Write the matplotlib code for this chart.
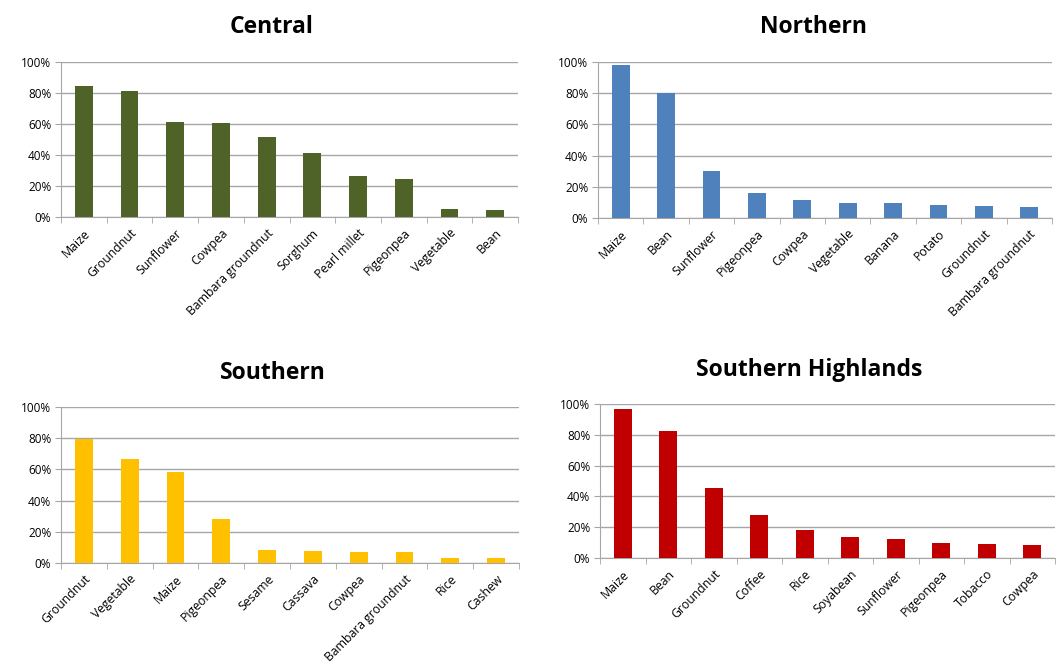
import matplotlib
matplotlib.use("Agg")
import matplotlib.pyplot as plt
from matplotlib.ticker import PercentFormatter, FixedLocator

plt.rcParams['font.family'] = ['Open Sans', 'DejaVu Sans']

central_crops = ["Maize", "Groundnut", "Sunflower", "Cowpea", "Bambara groundnut",
                 "Sorghum", "Pearl millet", "Pigeonpea", "Vegetable", "Bean"]
central_vals = [84.3, 81.1, 61.2, 60.5, 51.3, 41.4, 26.4, 24.2, 5.4, 4.7]

northern_crops = ["Maize", "Bean", "Sunflower", "Pigeonpea", "Cowpea", "Vegetable",
                  "Banana", "Potato", "Groundnut", "Bambara groundnut"]
northern_vals = [98.1, 80.3, 30.1, 15.8, 11.3, 9.8, 9.8, 8.5, 7.7, 6.8]

southern_crops = ["Groundnut", "Vegetable", "Maize", "Pigeonpea", "Sesame", "Cassava",
                  "Cowpea", "Bambara groundnut", "Rice", "Cashew"]
southern_vals = [79.6, 66.7, 58.4, 28.5, 8.2, 7.5, 6.9, 6.9, 3.0, 3.0]

highlands_crops = ["Maize", "Bean", "Groundnut", "Coffee", "Rice", "Soyabean",
                   "Sunflower", "Pigeonpea", "Tobacco", "Cowpea"]
highlands_vals = [96.6, 82.3, 45.3, 28.0, 18.1, 13.8, 12.3, 9.9, 9.1, 8.4]

yticks = [0, 20, 40, 60, 80, 100]

W, H = 1059, 670
fig = plt.figure(figsize=(W / 100, H / 100), dpi=100)

panels = [
    ("Central", central_crops, central_vals, "#4F6228", (61, 62, 518, 217), (272, 27)),
    ("Northern", northern_crops, northern_vals, "#4F81BD", (598, 62, 1052, 218), (813, 27)),
    ("Southern", southern_crops, southern_vals, "#FFC000", (61, 407, 519, 563), (273, 373)),
    ("Southern Highlands", highlands_crops, highlands_vals, "#C00000", (600, 404, 1055, 558), (809, 370)),
]

grid_col = "#A6A6A6"
for title, cats, vals, col, (x0, y0, x1, y1), (tx, ty) in panels:
    ax = fig.add_axes([x0 / W, (H - y1) / H, (x1 - x0) / W, (y1 - y0) / H])
    x = list(range(len(cats)))
    ax.bar(x, vals, width=0.39, color=col, zorder=3)
    ax.set_xlim(-0.5, len(cats) - 0.5)
    ax.set_ylim(0, 100)
    ax.yaxis.set_major_locator(FixedLocator(yticks))
    ax.yaxis.set_major_formatter(PercentFormatter(decimals=0))
    ax.grid(axis="y", color=grid_col, linewidth=1, zorder=0)
    ax.set_xticks(x)
    ax.set_xticklabels(cats, rotation=45, ha="right", rotation_mode="anchor", fontsize=8.8)
    ax.set_xticks([i - 0.5 for i in range(len(cats) + 1)], minor=True)
    ax.tick_params(axis="x", which="major", length=0, pad=7)
    ax.tick_params(axis="x", which="minor", length=4, color=grid_col, direction="out")
    ax.tick_params(axis="y", length=4, color=grid_col, labelsize=8.5, pad=3)
    for s in ["top", "right"]:
        ax.spines[s].set_visible(False)
    for s in ["left", "bottom"]:
        ax.spines[s].set_color(grid_col)
    fig.text(tx / W, 1 - ty / H, title, ha="center", va="center",
             fontsize=16.5, fontweight="bold")

fig.savefig("out.png", dpi=100)
